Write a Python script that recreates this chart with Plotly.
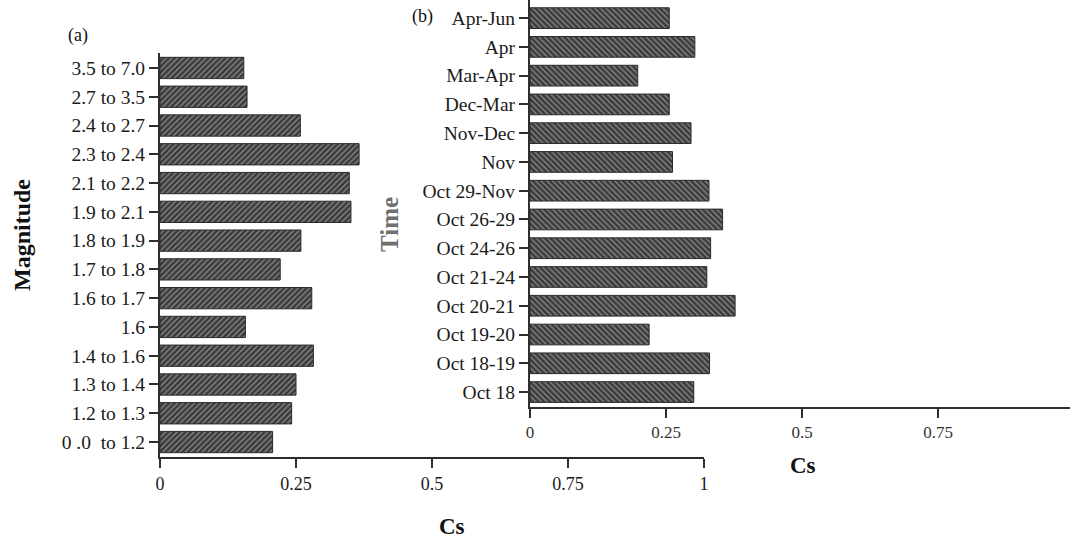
import plotly.graph_objects as go

# Panel (a): magnitude ranges (top to bottom) and Cs values
mag_labels = ["3.5 to 7.0", "2.7 to 3.5", "2.4 to 2.7", "2.3 to 2.4", "2.1 to 2.2",
              "1.9 to 2.1", "1.8 to 1.9", "1.7 to 1.8", "1.6 to 1.7", "1.6",
              "1.4 to 1.6", "1.3 to 1.4", "1.2 to 1.3", "0 .0  to 1.2"]
mag_cs = [0.154, 0.160, 0.258, 0.366, 0.348, 0.351, 0.259, 0.221, 0.279, 0.157,
          0.282, 0.250, 0.242, 0.207]

# Panel (b): time windows (top to bottom) and Cs values
time_labels = ["Apr-Jun", "Apr", "Mar-Apr", "Dec-Mar", "Nov-Dec", "Nov", "Oct 29-Nov",
               "Oct 26-29", "Oct 24-26", "Oct 21-24", "Oct 20-21", "Oct 19-20",
               "Oct 18-19", "Oct 18"]
time_cs = [0.256, 0.303, 0.198, 0.256, 0.296, 0.262, 0.329, 0.354, 0.332, 0.325,
           0.377, 0.219, 0.330, 0.301]

x_ticks = [0, 0.25, 0.5, 0.75, 1]
x_ticktext = ["0", "0.25", "0.5", "0.75", "1"]

W, H = 1070, 541
FONT = "Liberation Serif"
BAR_BG = "#3b3b3b"
BAR_FG = "#8e8e8e"
AX = "#2e2e2e"

fig = go.Figure()

fig.add_trace(go.Bar(
    x=mag_cs, y=mag_labels, orientation="h", width=0.74,
    marker=dict(color=BAR_BG, line=dict(color="#2a2a2a", width=1),
                pattern=dict(shape="/", fillmode="replace", bgcolor=BAR_BG,
                             fgcolor=BAR_FG, size=4, solidity=0.3)),
    xaxis="x", yaxis="y", showlegend=False))

fig.add_trace(go.Bar(
    x=time_cs, y=time_labels, orientation="h", width=0.72,
    marker=dict(color=BAR_BG, line=dict(color="#2a2a2a", width=1),
                pattern=dict(shape="\\", fillmode="replace", bgcolor=BAR_BG,
                             fgcolor=BAR_FG, size=4, solidity=0.3)),
    xaxis="x2", yaxis="y2", showlegend=False))

tickfont = dict(family=FONT, size=19.5, color="#1a1a1a")

def px_x(p):
    return p / W

def px_y(p):
    return 1 - p / H

fig.update_layout(
    width=W, height=H,
    margin=dict(l=0, r=0, t=0, b=0),
    paper_bgcolor="white", plot_bgcolor="rgba(0,0,0,0)",
    xaxis=dict(domain=[px_x(160), px_x(704)], range=[0, 1], anchor="y",
               tickvals=x_ticks, ticktext=x_ticktext, ticks="outside", ticklen=9,
               tickwidth=2, tickcolor=AX, showline=True, linecolor=AX, linewidth=2,
               showgrid=False, zeroline=False,
               tickfont=dict(family=FONT, size=18, color="#1a1a1a"), automargin=False),
    yaxis=dict(domain=[px_y(457), px_y(53)], range=[13.52, -0.52], anchor="x",
               type="category", ticks="outside", ticklen=9, tickwidth=2, tickcolor=AX,
               showline=True, linecolor=AX, linewidth=2, showgrid=False,
               tickfont=tickfont, automargin=False),
    xaxis2=dict(domain=[px_x(530), 1.0], range=[0, 0.9926], anchor="y2",
                tickvals=x_ticks[:4], ticktext=x_ticktext[:4], ticks="outside", ticklen=9,
                tickwidth=2, tickcolor=AX, showline=True, linecolor=AX, linewidth=2,
                showgrid=False, zeroline=False,
                tickfont=dict(family=FONT, size=17, color="#333"), automargin=False),
    yaxis2=dict(domain=[px_y(407), 1.0], range=[13.52, -0.63], anchor="x2",
                type="category", ticks="outside", ticklen=9, tickwidth=2, tickcolor=AX,
                showline=True, linecolor=AX, linewidth=2, showgrid=False,
                tickfont=tickfont, automargin=False),
)

def ann(text, x, y, size, bold=False, angle=0, color="#111"):
    t = f"<b>{text}</b>" if bold else text
    fig.add_annotation(text=t, x=px_x(x), y=px_y(y), xref="paper", yref="paper",
                       showarrow=False, textangle=angle, xanchor="center", yanchor="middle",
                       font=dict(family=FONT, size=size, color=color))

ann("(a)", 78, 35, 18)
ann("(b)", 422, 17, 18)
ann("Magnitude", 22, 235, 24, bold=True, angle=-90)
ann("Time", 390, 225, 25, bold=True, angle=-90, color="#707070")
ann("Cs", 452, 526, 23, bold=True)
ann("Cs", 803, 465, 23, bold=True)

fig.write_html("out.html", config={"displayModeBar": False},
               post_script="document.body.style.margin='0';document.body.style.overflow='hidden';")
